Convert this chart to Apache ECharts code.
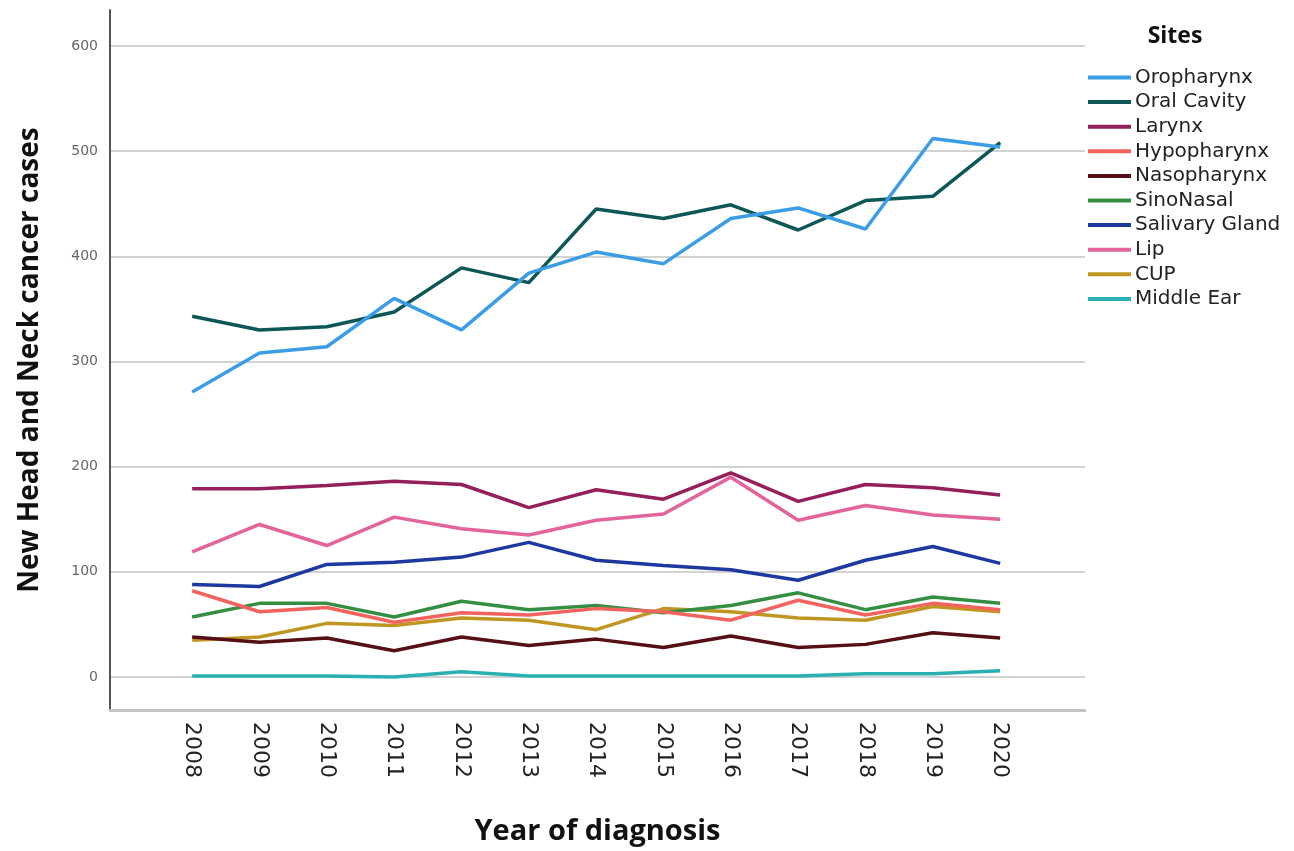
<!DOCTYPE html>
<html>
<head>
<meta charset="utf-8">
<script src="https://cdn.jsdelivr.net/npm/echarts@6/dist/echarts.min.js"></script>
<style>
  html, body { margin: 0; padding: 0; background: #fff; }
  #chart { width: 1294px; height: 851px; }
</style>
</head>
<body>
<div id="chart"></div>
<script>
// years on the x axis
const years = [2008, 2009, 2010, 2011, 2012, 2013, 2014, 2015, 2016, 2017, 2018, 2019, 2020];

// cases per site
const oropharynx    = [271, 308, 314, 360, 330, 384, 404, 393, 436, 446, 426, 512, 504];
const oralCavity    = [343, 330, 333, 347, 389, 375, 445, 436, 449, 425, 453, 457, 508];
const larynx        = [179, 179, 182, 186, 183, 161, 178, 169, 194, 167, 183, 180, 173];
const hypopharynx   = [82, 62, 66, 52, 61, 59, 65, 62, 54, 73, 59, 70, 64];
const nasopharynx   = [38, 33, 37, 25, 38, 30, 36, 28, 39, 28, 31, 42, 37];
const sinoNasal     = [57, 70, 70, 57, 72, 64, 68, 61, 68, 80, 64, 76, 70];
const salivaryGland = [88, 86, 107, 109, 114, 128, 111, 106, 102, 92, 111, 124, 108];
const lip           = [119, 145, 125, 152, 141, 135, 149, 155, 190, 149, 163, 154, 150];
const cup           = [35, 38, 51, 49, 56, 54, 45, 65, 62, 56, 54, 67, 62];
const middleEar     = [1, 1, 1, 0, 5, 1, 1, 1, 1, 1, 3, 3, 6];

const siteNames  = ['Oropharynx', 'Oral Cavity', 'Larynx', 'Hypopharynx', 'Nasopharynx',
                    'SinoNasal', 'Salivary Gland', 'Lip', 'CUP', 'Middle Ear'];
const siteValues = [oropharynx, oralCavity, larynx, hypopharynx, nasopharynx,
                    sinoNasal, salivaryGland, lip, cup, middleEar];
const siteColors = ['#3a9de6', '#0d5757', '#951f5a', '#f2635e', '#560f14',
                    '#348f42', '#1d389f', '#e3649a', '#c09622', '#2ab0b0'];

const series = siteNames.map((name, i) => ({
  name: name,
  type: 'line',
  data: years.map((y, j) => [y, siteValues[i][j]]),
  symbol: 'none',
  lineStyle: { width: 3.5, color: siteColors[i] },
  itemStyle: { color: siteColors[i] },
  z: 10 - i
}));

const myChart = echarts.init(document.getElementById('chart'));
myChart.setOption({
  animation: false,
  title: {
    text: 'Sites',
    left: 1170,
    top: 20,
    textAlign: 'center',
    textStyle: { fontFamily: 'Open Sans', fontWeight: 'bold', fontSize: 23, color: '#111' }
  },
  legend: {
    orient: 'vertical',
    left: 1083,
    top: 61,
    icon: 'rect',
    itemWidth: 43,
    itemHeight: 4,
    itemGap: 1.6,
    textStyle: { fontFamily: 'DejaVu Sans', fontSize: 20, lineHeight: 23, color: '#222', padding: [0, 0, 0, -1] },
    data: siteNames
  },
  grid: { left: 110, right: 209, top: 10, bottom: 141 },
  xAxis: {
    type: 'value',
    min: 2006.78,
    max: 2021.26,
    minInterval: 1,
    maxInterval: 1,
    name: 'Year of diagnosis',
    nameLocation: 'middle',
    nameGap: 107,
    nameTextStyle: { fontFamily: 'Open Sans', fontWeight: 'bold', fontSize: 29, color: '#111' },
    axisLine: { show: true, onZero: false, lineStyle: { color: '#c4c4c4', width: 3 } },
    axisTick: { show: false },
    splitLine: { show: false },
    axisLabel: {
      rotate: -90,
      margin: 12,
      fontFamily: 'DejaVu Sans',
      fontSize: 22,
      color: '#222',
      formatter: v => (Number.isInteger(v) && years.includes(v)) ? String(v) : ''
    }
  },
  yAxis: {
    type: 'value',
    min: -31.4,
    max: 634.2,
    splitNumber: 6,
    name: 'New Head and Neck cancer cases',
    nameLocation: 'middle',
    nameGap: 66,
    nameTextStyle: { fontFamily: 'Open Sans', fontWeight: 'bold', fontSize: 28, color: '#111' },
    axisLine: { show: true, onZero: false, lineStyle: { color: '#555', width: 2 } },
    axisTick: { show: false },
    splitLine: { show: true, showMinLine: false, showMaxLine: false, lineStyle: { color: '#d2d2d2', width: 2 } },
    axisLabel: {
      margin: 12,
      fontFamily: 'DejaVu Sans',
      fontSize: 14,
      color: '#666',
      formatter: v => (v >= 0 && v <= 600 && v % 100 === 0) ? String(v) : ''
    }
  },
  series: series
});
</script>
</body>
</html>
